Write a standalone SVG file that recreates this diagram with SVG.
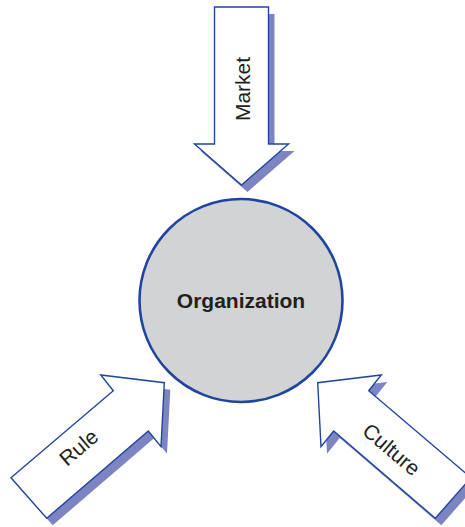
<svg xmlns="http://www.w3.org/2000/svg" width="465" height="527" viewBox="0 0 465 527">
<style>
.shadow{fill:#7d84c2;stroke:none}
.arrow{fill:#ffffff;stroke:#1f45a0;stroke-width:1.4;stroke-linejoin:miter}
.lbl{font-family:"Liberation Sans",Arial,sans-serif;font-size:21px;fill:#231f20}
.org{font-family:"Liberation Sans",Arial,sans-serif;font-size:21px;font-weight:bold;fill:#231f20}
</style>
<defs>
<polygon id="marketShape" points="214.5,7 268.5,7 268.5,144 288.5,144 241.5,185 194.5,144 214.5,144"/>
<polygon id="ruleShape" points="11,477.7 113.3,390.7 100.7,375 164.3,382.7 161,446.7 148.3,431 46.7,518.3"/>
<polygon id="cultureShape" points="471,477.7 368.7,390.7 381.3,375 317.7,382.7 321,446.7 333.7,431 435.3,518.3"/>
</defs>
<rect width="465" height="527" fill="#ffffff"/>
<g id="connectors">
<g id="market">
<use href="#marketShape" class="shadow" transform="translate(6,7)"/>
<use href="#marketShape" class="arrow"/>
<text class="lbl" text-anchor="middle" transform="translate(249.5,89) rotate(-90)">Market</text>
</g>
<g id="rule">
<use href="#ruleShape" class="shadow" transform="translate(6,7)"/>
<use href="#ruleShape" class="arrow"/>
<text class="lbl" transform="translate(67,467) rotate(-40.4)">Rule</text>
</g>
<g id="culture">
<use href="#cultureShape" class="shadow" transform="translate(6,7)"/>
<use href="#cultureShape" class="arrow"/>
<text class="lbl" transform="translate(361,433) rotate(40.4)">Culture</text>
</g>
</g>
<g id="organization">
<circle cx="241" cy="300.5" r="101.5" fill="#d1d3d4" stroke="#1f45a0" stroke-width="2.6"/>
<text class="org" x="241" y="308" text-anchor="middle">Organization</text>
</g>
</svg>
